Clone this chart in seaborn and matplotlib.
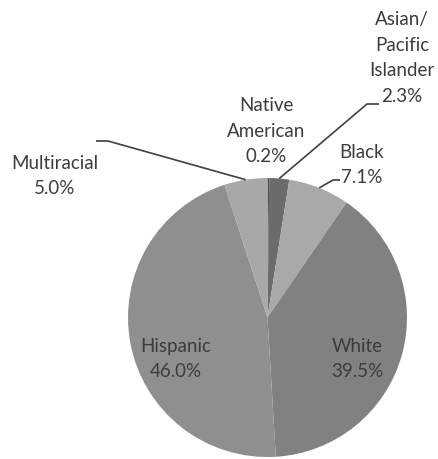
import matplotlib
matplotlib.use("Agg")
import matplotlib.pyplot as plt
import seaborn as sns
import numpy as np

# Enrollment share by race/ethnicity (percent)
groups = ["Native American", "Asian/Pacific Islander", "Black", "White", "Hispanic", "Multiracial"]
shares = [0.2, 2.3, 7.1, 39.5, 46.0, 5.0]
label_texts = ["Native\nAmerican", "Asian/\nPacific\nIslander", "Black", "White", "Hispanic", "Multiracial"]

sns.set_theme(style="white")
plt.rcParams["font.family"] = ["Lato", "DejaVu Sans"]

greys = ["#4a4a4a", "#6b6b6b", "#a9a9a9", "#818181", "#8f8f8f", "#a8a8a8"]

W, H = 439, 459
fig = plt.figure(figsize=(W / 100, H / 100), dpi=100)
fig.patch.set_facecolor("white")

cx, cy, R = 267.5, 317.5, 139.5  # pie centre and radius in pixels (from top-left)
ax = fig.add_axes([(cx - R) / W, (H - cy - R) / H, 2 * R / W, 2 * R / H])

wedges, _ = ax.pie(shares, colors=greys, startangle=90, counterclock=False,
                   radius=1.0, wedgeprops=dict(linewidth=0))
ax.set_xlim(-1, 1)
ax.set_ylim(-1, 1)
ax.set_aspect("equal")
ax.axis("off")


def px(x, y):
    """Pixel position (from top-left) to pie data coordinates."""
    return (x - cx) / R, (cy - y) / R


def edge_point(w):
    ang = np.deg2rad((w.theta1 + w.theta2) / 2)
    return np.cos(ang), np.sin(ang)


text_color = "#3c3c3c"
fs = 13.5
# label centre positions in pixels
label_pos = {
    "Native American": (266, 131),
    "Asian/Pacific Islander": (402, 58),
    "Black": (362, 165),
    "White": (357, 359),
    "Hispanic": (176, 359),
    "Multiracial": (55, 176),
}
# elbow points of leader lines (pixel coordinates), drawn as segments to the wedge rim
leaders = {
    "Asian/Pacific Islander": [(379, 104), (367, 104)],
    "Black": [(340, 180), (333, 180)],
    "Multiracial": [(96, 141), (108, 141)],
}

for g, s, lab, w in zip(groups, shares, label_texts, wedges):
    x, y = px(*label_pos[g])
    ax.text(x, y, f"{lab}\n{s:.1f}%", ha="center", va="center", fontsize=fs,
            color=text_color, linespacing=1.6, clip_on=False)
    if g in leaders:
        pts = [px(*p) for p in leaders[g]] + [edge_point(w)]
        xs, ys = zip(*pts)
        ax.plot(xs, ys, color="#404040", lw=1.2, clip_on=False, solid_capstyle="butt")

fig.savefig("out.png", dpi=100, facecolor="white")
